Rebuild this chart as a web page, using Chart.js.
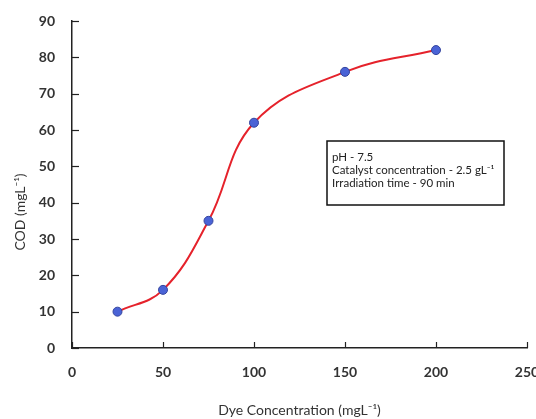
<!DOCTYPE html>
<html>
<head>
<meta charset="utf-8">
<script src="https://cdn.jsdelivr.net/npm/chart.js@4/dist/chart.umd.min.js"></script>
<style>
  html, body { margin: 0; padding: 0; background: #fff; }
  #wrap { width: 536px; height: 419px; }
</style>
</head>
<body>
<div id="wrap"><canvas id="codChart" width="536" height="419"></canvas></div>
<script>
const dyeConc = [25, 50, 75, 100, 150, 200];
const codValues = [10, 16, 35, 62, 76, 82];
const xTicks = [0, 50, 100, 150, 200, 250];
const yTicks = [0, 10, 20, 30, 40, 50, 60, 70, 80, 90];
const noteLines = ["pH - 7.5", "Catalyst concentration - 2.5 gL\u207B\u00B9", "Irradiation time - 90 min"];

const fontFam = "Lato, 'Open Sans', sans-serif";

// small inward ticks, the y title and the note box
const extras = {
  id: "extras",
  afterDraw(chart) {
    const ctx = chart.ctx;
    const xs = chart.scales.x;
    const ys = chart.scales.y;
    ctx.save();
    ctx.strokeStyle = "#222";
    ctx.lineWidth = 1.2;
    xTicks.forEach((v) => {
      const px = Math.round(xs.getPixelForValue(v)) + 0.5;
      ctx.beginPath();
      ctx.moveTo(px, ys.bottom);
      ctx.lineTo(px, ys.bottom - 6);
      ctx.stroke();
    });
    yTicks.forEach((v) => {
      const py = Math.round(ys.getPixelForValue(v)) + 0.5;
      ctx.beginPath();
      ctx.moveTo(xs.left, py);
      ctx.lineTo(xs.left + 7, py);
      ctx.stroke();
    });

    // y axis title
    ctx.fillStyle = "#333";
    ctx.font = "14px " + fontFam;
    ctx.translate(20, 212);
    ctx.rotate(-Math.PI / 2);
    ctx.textAlign = "center";
    ctx.textBaseline = "middle";
    ctx.fillText("COD (mgL\u207B\u00B9)", 0, 0);
    ctx.restore();

    // note box
    ctx.save();
    ctx.fillStyle = "#fff";
    ctx.fillRect(327, 141, 177, 64);
    ctx.strokeStyle = "#111";
    ctx.lineWidth = 1.5;
    ctx.strokeRect(327, 141, 177, 64);
    ctx.fillStyle = "#222";
    ctx.font = "11.5px " + fontFam;
    ctx.textBaseline = "middle";
    noteLines.forEach((t, i) => {
      ctx.fillText(t, 332, 157 + i * 13);
    });
    ctx.restore();
  }
};

const ctx = document.getElementById("codChart").getContext("2d");
const chart = new Chart(ctx, {
  type: "line",
  data: {
    datasets: [
      {
        data: dyeConc.map((x, i) => ({ x: x, y: codValues[i] })),
        borderColor: "#e5222b",
        borderWidth: 2,
        tension: 0.4,
        pointRadius: 4.5,
        pointBackgroundColor: "#4a63d6",
        pointBorderColor: "#34449e",
        pointBorderWidth: 1,
        fill: false
      }
    ]
  },
  options: {
    responsive: false,
    animation: false,
    layout: { padding: { top: 21, right: 9, left: 0, bottom: 0 } },
    plugins: {
      legend: { display: false },
      tooltip: { enabled: false }
    },
    scales: {
      x: {
        type: "linear",
        min: 0,
        max: 250,
        afterBuildTicks: (s) => { s.ticks = xTicks.map((v) => ({ value: v })); },
        afterFit: (s) => { s.height = 71; s.paddingLeft = 0; s.paddingRight = 0; },
        grid: { display: false, drawTicks: false },
        border: { color: "#222", width: 1.5 },
        ticks: {
          padding: 16,
          color: "#333",
          font: { family: fontFam, size: 14, weight: "bold" }
        },
        title: {
          display: true,
          text: "Dye Concentration (mgL\u207B\u00B9)",
          color: "#333",
          font: { family: fontFam, size: 14 },
          padding: { top: 8, bottom: 0 }
        }
      },
      y: {
        min: 0,
        max: 90,
        afterBuildTicks: (s) => { s.ticks = yTicks.map((v) => ({ value: v })); },
        afterFit: (s) => { s.width = 72; s.paddingTop = 0; s.paddingBottom = 0; },
        grid: { display: false, drawTicks: false },
        border: { color: "#222", width: 1.5 },
        ticks: {
          padding: 17,
          color: "#333",
          font: { family: fontFam, size: 14, weight: "bold" }
        }
      }
    }
  },
  plugins: [extras]
});
</script>
</body>
</html>
